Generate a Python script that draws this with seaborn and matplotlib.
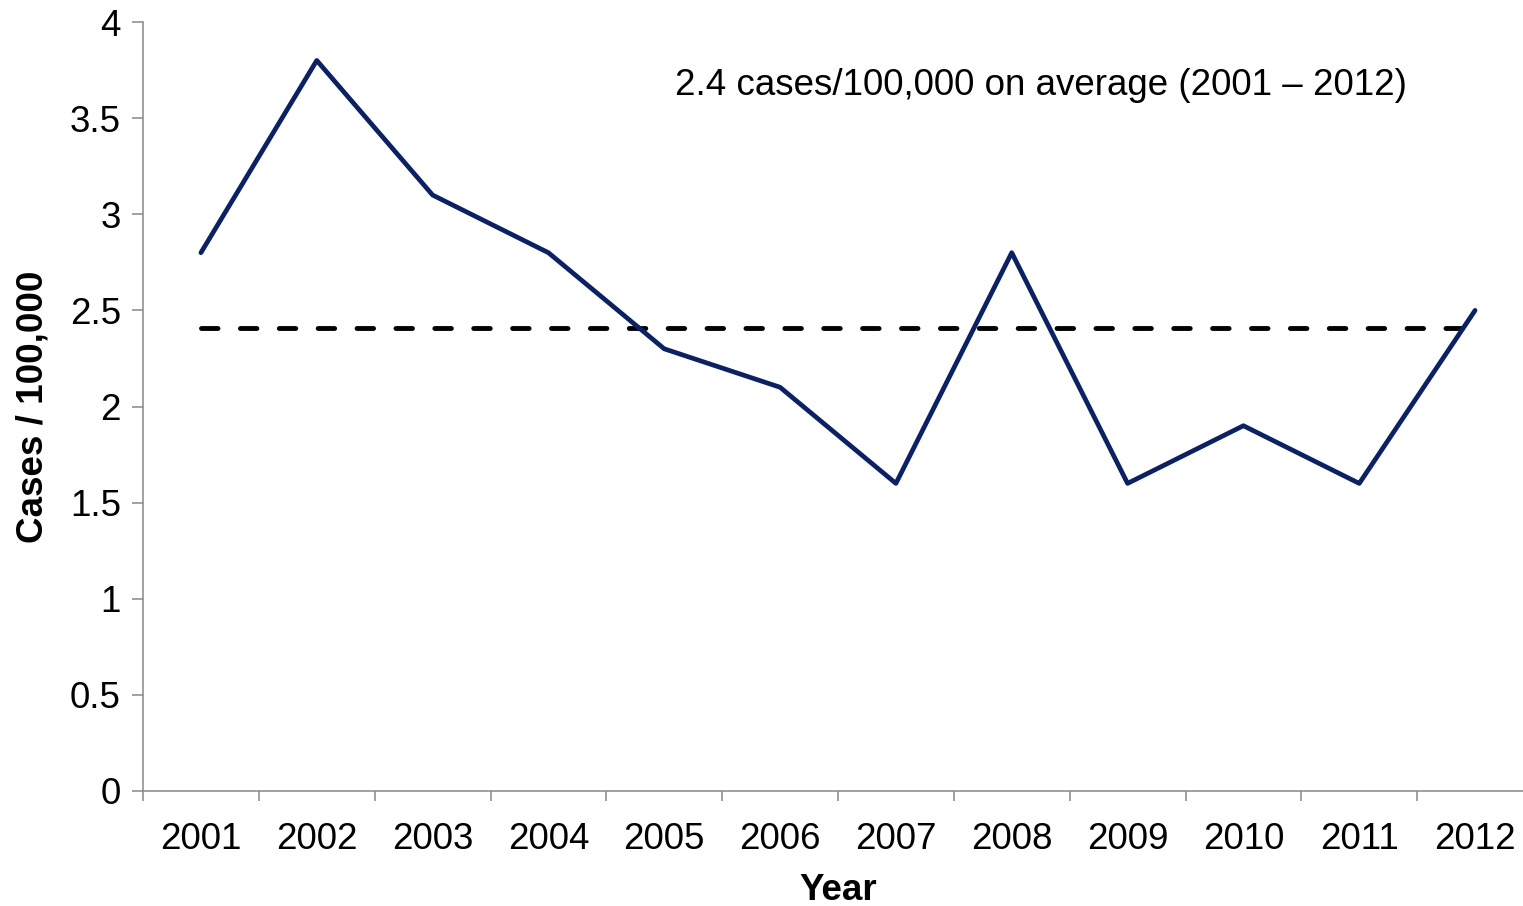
import numpy as np
import pandas as pd
import seaborn as sns
import matplotlib.pyplot as plt

years = ['2001', '2002', '2003', '2004', '2005', '2006',
         '2007', '2008', '2009', '2010', '2011', '2012']
rates = [2.8, 3.8, 3.1, 2.8, 2.3, 2.1, 1.6, 2.8, 1.6, 1.9, 1.6, 2.5]
average = 2.41
y_ticks = [0, 0.5, 1, 1.5, 2, 2.5, 3, 3.5, 4]
y_labels = ['0', '0.5', '1', '1.5', '2', '2.5', '3', '3.5', '4']

df = pd.DataFrame({'Year': years, 'Rate': rates})
df['pos'] = np.arange(len(years))

sns.set_style('white')
plt.rcParams['font.family'] = ['Liberation Sans', 'DejaVu Sans']
plt.rcParams['text.color'] = 'black'
plt.rcParams['axes.labelcolor'] = 'black'

fig = plt.figure(figsize=(15.23, 9.06), dpi=100)
ax = fig.add_axes([143/1523, 1 - 791/906, (1533 - 143)/1523, (791 - 22)/906])

# average line
sns.lineplot(x=[df['pos'].iloc[0], df['pos'].iloc[-1]], y=[average, average],
             ax=ax, color='black', linewidth=3.5, linestyle=(0, (3.4, 4.6)),
             dash_capstyle='round')
# rate line
sns.lineplot(data=df, x='pos', y='Rate', ax=ax, color='#0b2163', linewidth=3.4)

fs = 26.5
ax.set_xlim(-0.5, len(years) - 0.5)
ax.set_ylim(0, 4)
ax.set_yticks(y_ticks)
ax.set_yticklabels(y_labels, fontsize=fs, color='black')
ax.set_xticks(df['pos'])
ax.set_xticklabels(years, fontsize=fs, color='black')
ax.set_xticks(np.arange(-0.5, len(years)), minor=True)
ax.tick_params(axis='x', which='major', length=0, pad=22, bottom=True)
ax.tick_params(axis='x', which='minor', length=7.5, width=1.1, color='#888888',
               direction='out', bottom=True)
ax.tick_params(axis='y', length=8, width=1.1, color='#888888', direction='out',
               left=True, pad=8)

for s in ['top', 'right']:
    ax.spines[s].set_visible(False)
for s in ['left', 'bottom']:
    ax.spines[s].set_color('#888888')
    ax.spines[s].set_linewidth(1.1)

ax.set_xlabel('Year', fontsize=fs, fontweight='bold', labelpad=12)
ax.set_ylabel('Cases / 100,000', fontsize=fs, fontweight='bold', labelpad=14)

ax.text(0.383, 0.917, '2.4 cases/100,000 on average (2001 \u2013 2012)',
        transform=ax.transAxes, fontsize=fs, va='center', ha='left')

fig.savefig('out.png', dpi=100)
